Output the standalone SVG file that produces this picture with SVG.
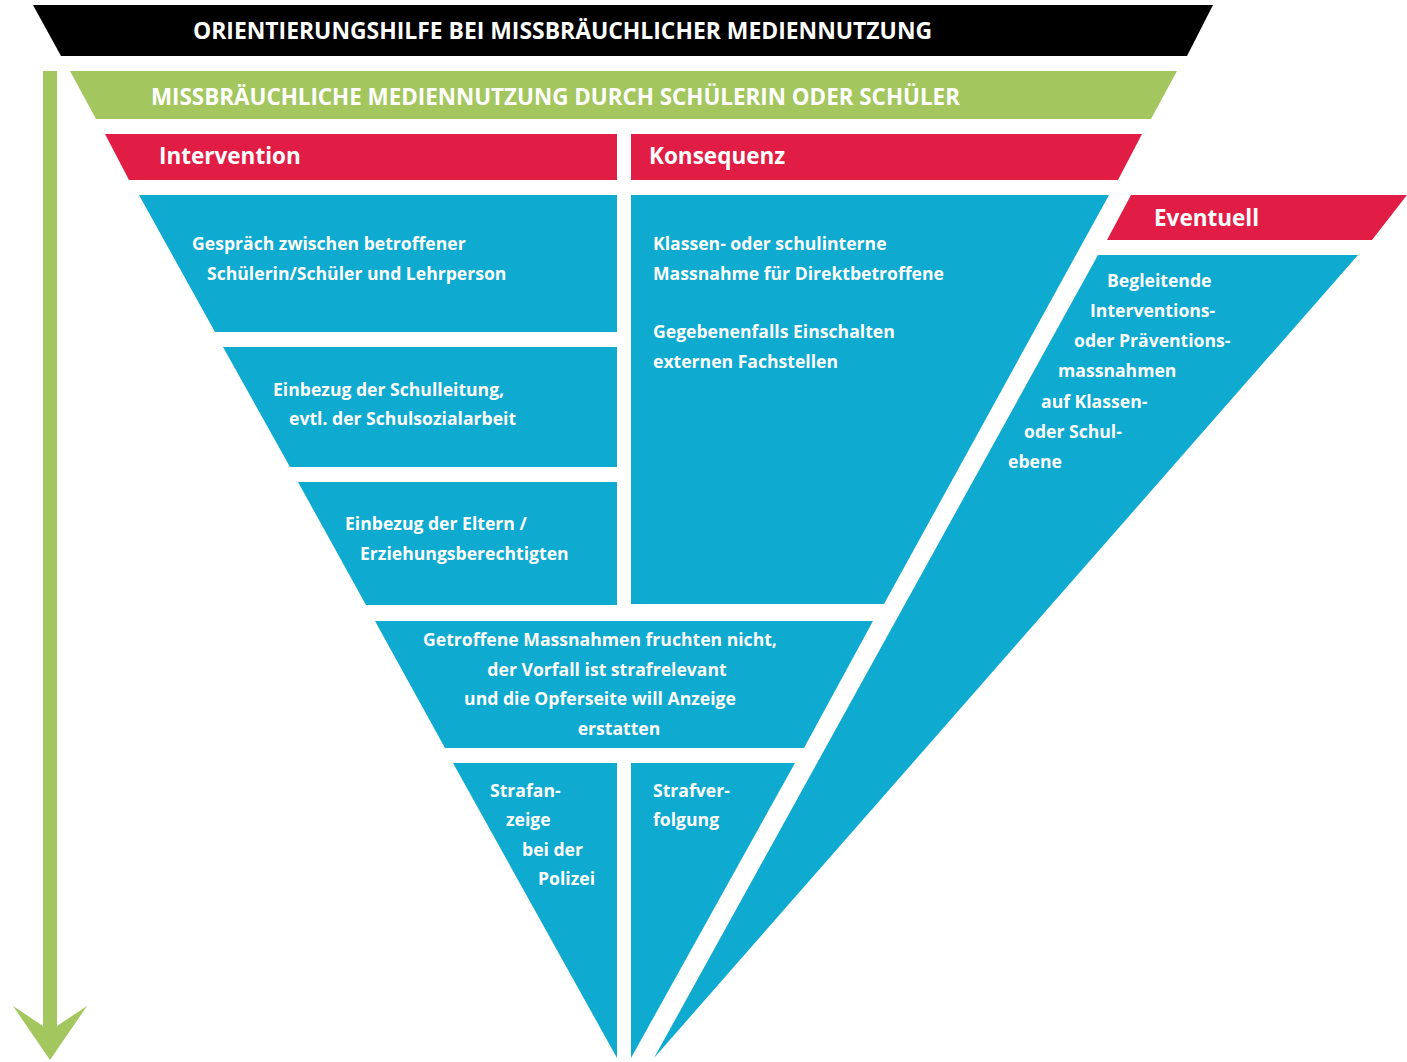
<svg xmlns="http://www.w3.org/2000/svg" width="1407" height="1062" viewBox="0 0 1407 1062">
<style>
.blk{fill:#000000}
.grn{fill:#a3c75e}
.red{fill:#e21d45}
.cyn{fill:#0eaad0}
text{font-family:"Open Sans","Liberation Sans",sans-serif;font-weight:700;fill:#ffffff}
.t1{font-size:22.9px}
.t1b{font-size:22.4px}
.t2{font-size:22.5px}
.tb{font-size:17.6px}
</style>
<rect width="1407" height="1062" fill="#ffffff"/>
<g id="flow-arrow">
<polygon class="grn" points="43,71 57,71 57,1026 87,1006 50,1060 13,1006 43,1026"/>
</g>
<g id="title">
<polygon class="blk" points="33,5 1213,5 1187,56 61,56"/>
<text class="t1" x="193" y="39">ORIENTIERUNGSHILFE BEI MISSBRÄUCHLICHER MEDIENNUTZUNG</text>
</g>
<g id="subtitle">
<polygon class="grn" points="70,71 1177,71 1151,119 96,119"/>
<text class="t1b" x="151" y="105">MISSBRÄUCHLICHE MEDIENNUTZUNG DURCH SCHÜLERIN ODER SCHÜLER</text>
</g>
<g id="intervention-header">
<polygon class="red" points="105,134 617,134 617,180 129,180"/>
<text class="t2" x="159" y="164">Intervention</text>
</g>
<g id="konsequenz-header">
<polygon class="red" points="631,134 1142,134 1118,180 631,180"/>
<text class="t2" x="649" y="164">Konsequenz</text>
</g>
<g id="eventuell-header">
<polygon class="red" points="1131,195 1407,195 1372,240 1107,240"/>
<text class="t2" x="1154" y="226">Eventuell</text>
</g>
<g id="gespraech">
<polygon class="cyn" points="139,195 617,195 617,332 215,332"/>
<text class="tb" x="192" y="250">Gespräch zwischen betroffener</text>
<text class="tb" x="207" y="280">Schülerin/Schüler und Lehrperson</text>
</g>
<g id="schulleitung">
<polygon class="cyn" points="223,347 617,347 617,467 290,467"/>
<text class="tb" x="273" y="396">Einbezug der Schulleitung,</text>
<text class="tb" x="289" y="425">evtl. der Schulsozialarbeit</text>
</g>
<g id="eltern">
<polygon class="cyn" points="298,482 617,482 617,605 366,605"/>
<text class="tb" x="345" y="530">Einbezug der Eltern / </text>
<text class="tb" x="360" y="560">Erziehungsberechtigten</text>
</g>
<g id="konsequenz">
<polygon class="cyn" points="631,195 1109,195 884,604 631,604"/>
<text class="tb" x="653" y="250">Klassen- oder schulinterne</text>
<text class="tb" x="653" y="280">Massnahme für Direktbetroffene</text>
<text class="tb" x="653" y="338">Gegebenenfalls Einschalten</text>
<text class="tb" x="653" y="368">externen Fachstellen</text>
</g>
<g id="massnahmen-fruchten-nicht">
<polygon class="cyn" points="375,621 873,621 804,748 445,748"/>
<text class="tb" x="600" y="646" text-anchor="middle">Getroffene Massnahmen fruchten nicht,</text>
<text class="tb" x="607" y="676" text-anchor="middle">der Vorfall ist strafrelevant</text>
<text class="tb" x="600" y="705" text-anchor="middle">und die Opferseite will Anzeige</text>
<text class="tb" x="619" y="735" text-anchor="middle">erstatten</text>
</g>
<g id="strafanzeige">
<polygon class="cyn" points="453,763 617,763 617,1058"/>
<text class="tb" x="490" y="797">Strafan-</text>
<text class="tb" x="506" y="826">zeige</text>
<text class="tb" x="522" y="856">bei der</text>
<text class="tb" x="538" y="885">Polizei</text>
</g>
<g id="strafverfolgung">
<polygon class="cyn" points="631,763 795,763 631,1058"/>
<text class="tb" x="653" y="797">Strafver-</text>
<text class="tb" x="653" y="826">folgung</text>
</g>
<g id="eventuell">
<polygon class="cyn" points="1098,255 1358,255 654,1058"/>
<text class="tb" x="1107" y="287">Begleitende</text>
<text class="tb" x="1090" y="317">Interventions-</text>
<text class="tb" x="1074" y="347">oder Präventions-</text>
<text class="tb" x="1058" y="377">massnahmen</text>
<text class="tb" x="1041" y="408">auf Klassen-</text>
<text class="tb" x="1024" y="438">oder Schul-</text>
<text class="tb" x="1008" y="468">ebene</text>
</g>
</svg>
